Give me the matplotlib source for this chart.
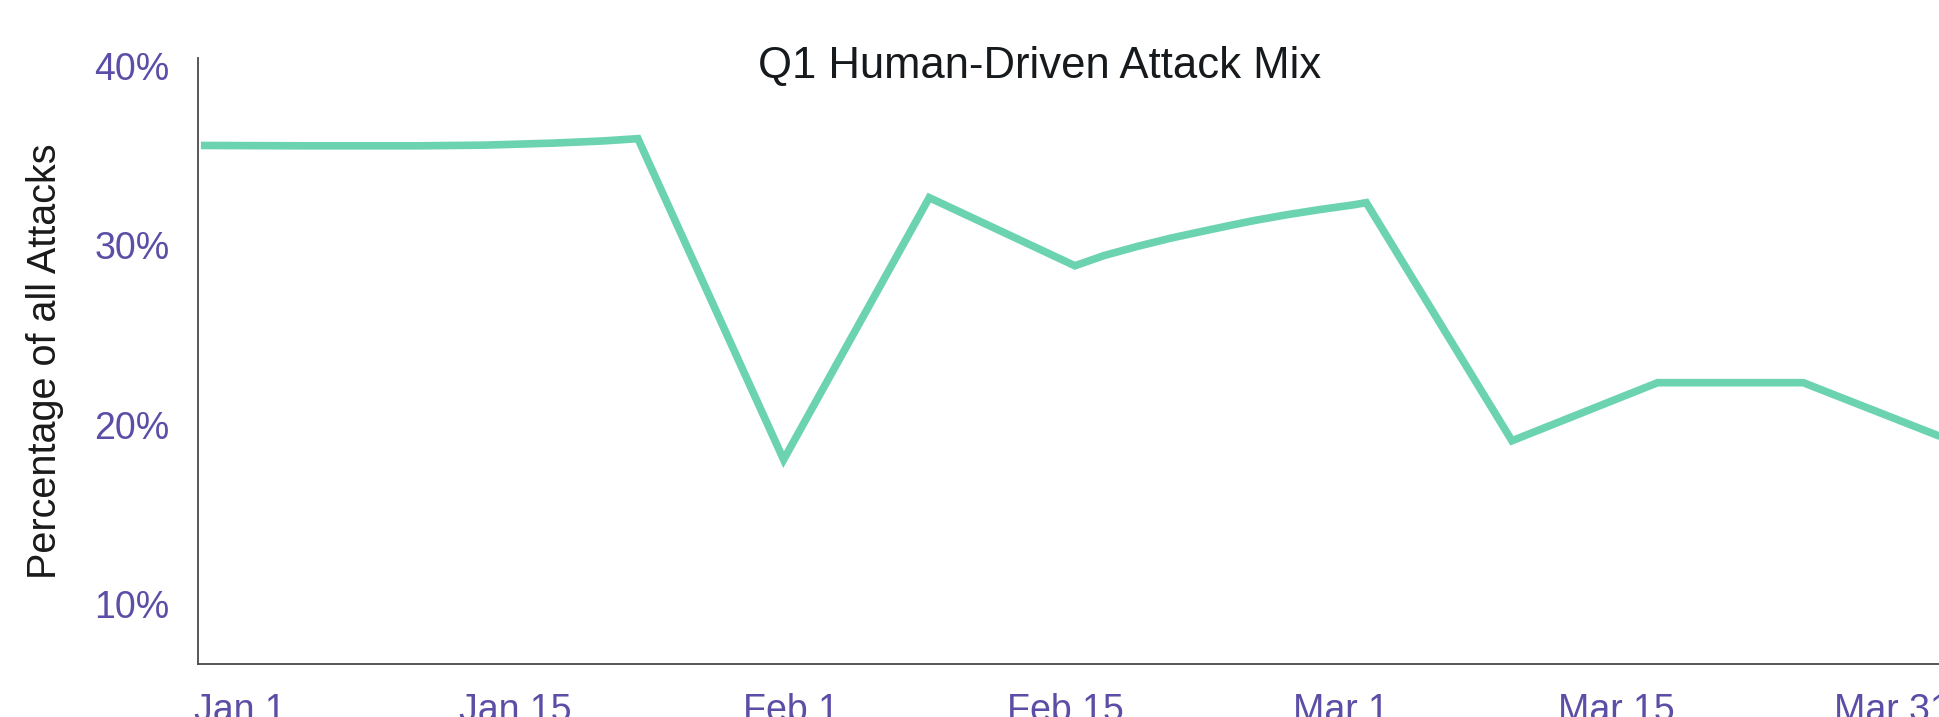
import numpy as np
import matplotlib
matplotlib.use("Agg")
import matplotlib.pyplot as plt

# data: share of human-driven attacks (x = days since Jan 1)
days = [0, 5, 10.5, 13.7, 16.9, 19.3, 21,
        28, 35,
        42, 43.4, 45, 46.6, 48.2, 49.5, 50.6, 52.2, 53.8, 55.4, 56,
        63, 70, 77, 84]
share = [35.57, 35.55, 35.55, 35.59, 35.70, 35.82, 35.95,
         18.05, 32.66,
         28.86, 29.43, 29.94, 30.40, 30.80, 31.12, 31.38, 31.71, 32.00, 32.26, 32.38,
         19.1, 22.34, 22.34, 19.15]

y_ticks = [10, 20, 30, 40]
x_labels = ["Jan 1", "Jan 15", "Feb 1", "Feb 15", "Mar 1", "Mar 15", "Mar 31"]

line_color = "#6cd3b1"
tick_color = "#5a4ea6"

plt.rcParams['font.family'] = ['Liberation Sans', 'DejaVu Sans']

fig = plt.figure(figsize=(19.4, 7.17), dpi=100)
W, H = 1940, 717
# axes box in pixels: left spine at 198, top 58, bottom 664, runs off the right edge
ax = fig.add_axes([198 / W, 1 - 664 / H, (W - 198) / W, (664 - 58.5) / H])

ax.plot(days, share, color=line_color, lw=5.5, solid_capstyle='butt',
        solid_joinstyle='miter')

ax.set_xlim(-0.14, 83.57)
ax.set_ylim(6.65, 40.42)

ax.set_yticks(y_ticks)
ax.set_yticklabels(["%d%%" % v for v in y_ticks])
# x labels are spread evenly along the axis
ax.set_xticks(np.linspace(1.87, 81.26, len(x_labels)))
ax.set_xticklabels(x_labels)

ax.tick_params(axis='both', length=0, labelsize=27, colors=tick_color)
ax.tick_params(axis='y', pad=20.5)
ax.tick_params(axis='x', pad=21)

for s in ['top', 'right']:
    ax.spines[s].set_visible(False)
for s in ['left', 'bottom']:
    ax.spines[s].set_color('#4a4a4a')
    ax.spines[s].set_linewidth(1.3)

# y label placed on the figure so it sits where the reference has it
fig.text(45 / W, 1 - 361 / H, "Percentage of all Attacks", fontsize=28.5,
         color='#1a1a1a', rotation=90, ha='center', va='center')

fig.text(1040 / W, 1 - 66 / H, "Q1 Human-Driven Attack Mix", fontsize=31.4,
         color='#161a1d', ha='center', va='center')

fig.savefig("out.png", dpi=100)
